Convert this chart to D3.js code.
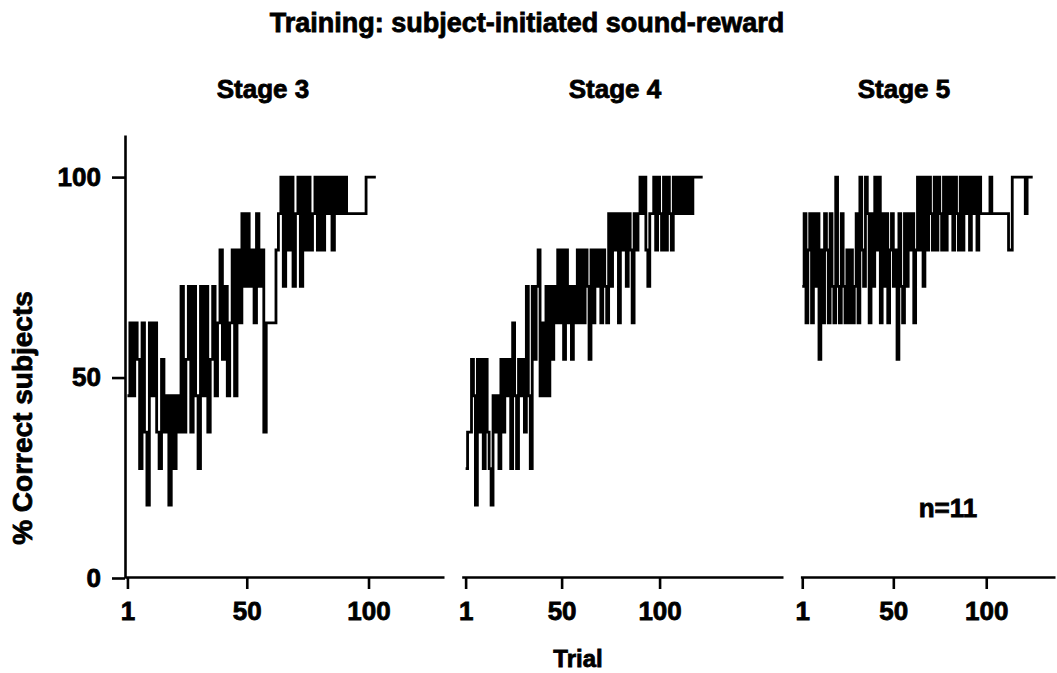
<!DOCTYPE html>
<html>
<head>
<meta charset="utf-8">
<script src="https://cdn.jsdelivr.net/npm/d3@7"></script>
<style>
  html, body { margin: 0; padding: 0; background: #fff; }
  svg text {
    font-family: "Liberation Sans", Arial, Helvetica, sans-serif;
    font-weight: bold; fill: #000;
    stroke: #000; stroke-width: 0.8px; paint-order: stroke;
  }
</style>
</head>
<body>
<svg id="chart" width="1057" height="673"></svg>
<script>
// Number of subjects correct on each trial, out of n = 11
const nSubjects = 11;
const stageNames = ["Stage 3", "Stage 4", "Stage 5"];

const stage3Correct = [
  5, 7, 5, 7, 6, 3, 7, 4, 2, 7,
  5, 7, 4, 3, 6, 4, 5, 2, 5, 3,
  5, 4, 8, 4, 6, 8, 4, 8, 5, 3,
  8, 5, 8, 4, 6, 8, 5, 7, 9, 6,
  8, 5, 7, 9, 5, 9, 7, 10, 8, 10,
  8, 9, 7, 10, 8, 9, 4, 7, 7, 7,
  7, 9, 10, 11, 8, 11, 9, 11, 8, 10,
  11, 8, 11, 9, 11, 9, 10, 11, 9, 11,
  9, 11, 10, 11, 9, 11, 10, 11, 10, 11,
  10, 10, 10, 10, 10, 10, 10, 10, 11, 11,
  11, 11, 11
];

const stage4Correct = [
  3, 4, 4, 6, 5, 2, 6, 4, 6, 3,
  6, 4, 3, 2, 5, 4, 5, 3, 6, 4,
  6, 5, 6, 3, 7, 5, 3, 6, 5, 6,
  4, 8, 5, 3, 8, 6, 8, 9, 5, 7,
  5, 8, 5, 8, 6, 8, 7, 9, 7, 9,
  6, 9, 7, 8, 6, 8, 7, 9, 7, 9,
  7, 9, 8, 6, 9, 7, 9, 8, 9, 7,
  9, 8, 7, 10, 8, 10, 9, 10, 7, 10,
  9, 10, 8, 10, 9, 7, 10, 9, 10, 11,
  10, 11, 9, 8, 10, 10, 11, 9, 11, 10,
  9, 11, 9, 11, 10, 9, 11, 10, 11, 10,
  11, 10, 11, 10, 11, 10, 11, 11, 11, 11,
  11, 11
];

const stage5Correct = [
  8, 10, 7, 9, 10, 7, 10, 8, 10, 6,
  9, 7, 10, 9, 7, 10, 8, 7, 11, 8,
  7, 10, 8, 7, 9, 7, 9, 7, 8, 10,
  7, 11, 9, 8, 11, 10, 7, 10, 8, 11,
  9, 11, 7, 10, 8, 10, 7, 9, 10, 8,
  9, 6, 10, 8, 7, 10, 8, 10, 9, 10,
  7, 9, 11, 9, 11, 8, 11, 9, 11, 10,
  9, 11, 9, 11, 10, 9, 11, 9, 11, 10,
  11, 9, 11, 10, 9, 11, 9, 11, 10, 11,
  9, 11, 10, 11, 9, 11, 10, 10, 10, 10,
  10, 11, 10, 10, 10, 10, 10, 10, 10, 10,
  10, 9, 9, 11, 11, 11, 11, 11, 11, 11,
  10, 11, 11, 11, 11
];

const stageSeries = [stage3Correct, stage4Correct, stage5Correct];
const xTickValues = [1, 50, 100];
const yTickValues = [0, 50, 100];

const titleText = "Training: subject-initiated sound-reward";
const yAxisLabel = "% Correct subjects";
const xAxisLabel = "Trial";
const nLabel = "n=" + nSubjects;

// ---- layout ----
const svg = d3.select("#chart");
const tickFont = 26;
const lineW = 2.6;

const y = d3.scaleLinear().domain([0, 110.5]).range([578, 135]);

// each panel has its own trial axis
const panels = [
  { domain: [0, 131], range: [125, 444], head: 263 },
  { domain: [-1, 163], range: [461.7, 783], head: 615 },
  { domain: [0, 137], range: [800.4, 1055], head: 904 }
];

function styleAxis(sel) {
  sel.select(".domain").attr("stroke-width", lineW).attr("stroke", "#000");
  sel.selectAll(".tick line").attr("stroke-width", lineW).attr("stroke", "#000");
  sel.selectAll(".tick text")
    .attr("fill", "#000")
    .style("font-size", tickFont + "px")
    .style("font-family", "'Liberation Sans', Arial, sans-serif")
    .style("font-weight", "bold");
}

// title
svg.append("text")
  .attr("x", 527).attr("y", 32)
  .attr("text-anchor", "middle")
  .style("font-size", "27px")
  .text(titleText);

panels.forEach((p, i) => {
  const x = d3.scaleLinear().domain(p.domain).range(p.range);
  const g = svg.append("g");

  // stage heading
  g.append("text")
    .attr("x", p.head)
    .attr("y", 98)
    .attr("text-anchor", "middle")
    .style("font-size", "26px")
    .text(stageNames[i]);

  // trial axis
  const xAxis = d3.axisBottom(x).tickValues(xTickValues).tickSize(12).tickSizeOuter(0).tickPadding(13);
  g.append("g").attr("transform", "translate(0,577)").call(xAxis).call(styleAxis);

  // step line of percent correct per trial
  const data = stageSeries[i].map((c, t) => ({ trial: t + 1, pct: c / nSubjects * 100 }));
  const line = d3.line()
    .x(d => x(d.trial))
    .y(d => y(d.pct))
    .curve(d3.curveStepAfter);
  g.append("path")
    .datum(data)
    .attr("d", line)
    .attr("fill", "none")
    .attr("stroke", "#000")
    .attr("stroke-width", 2.8);
});

// percent axis on the first panel
const yAxis = d3.axisLeft(y).tickValues(yTickValues).tickSize(13).tickSizeOuter(0).tickPadding(11);
svg.append("g").attr("transform", "translate(125,0)").call(yAxis).call(styleAxis);

// axis titles
svg.append("text")
  .attr("transform", "translate(32,418) rotate(-90)")
  .attr("text-anchor", "middle")
  .style("font-size", "28px")
  .text(yAxisLabel);

svg.append("text")
  .attr("x", 578).attr("y", 667)
  .attr("text-anchor", "middle")
  .style("font-size", "24px")
  .text(xAxisLabel);

// sample size
svg.append("text")
  .attr("x", 948).attr("y", 517)
  .attr("text-anchor", "middle")
  .style("font-size", "26px")
  .text(nLabel);
</script>
</body>
</html>
